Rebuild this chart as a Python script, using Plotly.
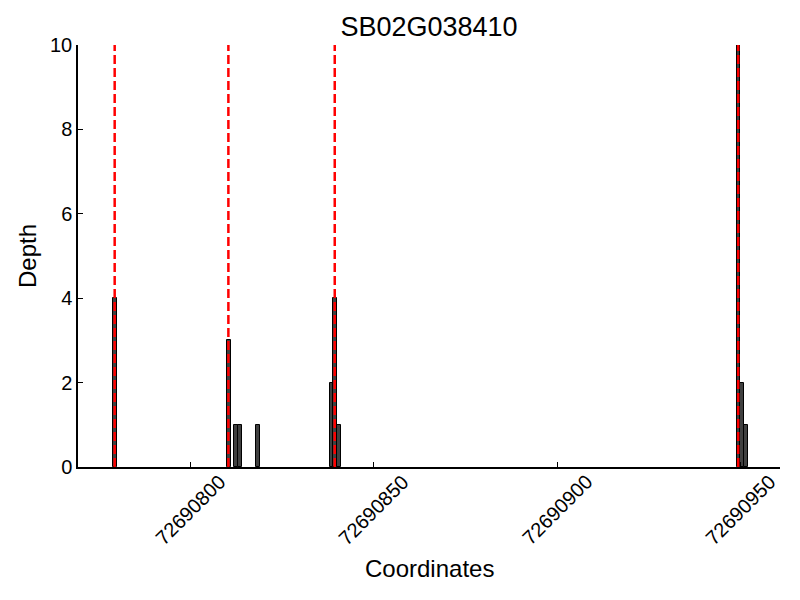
import plotly.graph_objects as go

# Data
positions = [72690779, 72690810, 72690812, 72690813, 72690818,
             72690838, 72690839, 72690840, 72690949, 72690950, 72690951]
depths = [4, 3, 1, 1, 1, 2, 4, 1, 10, 2, 1]
marker_lines = [72690779.4, 72690810.4, 72690839.4, 72690949.4]
x_ticks = [72690800, 72690850, 72690900, 72690950]
x_tick_labels = ["72690800", "72690850", "72690900", "72690950"]
y_ticks = [0, 2, 4, 6, 8, 10]
title_text = "SB02G038410"

FONT = "Liberation Sans, Arial, Helvetica, sans-serif"

fig = go.Figure()
fig.add_trace(go.Bar(
    x=positions, y=depths, width=1, offset=0,
    marker=dict(color="#404040", line=dict(color="black", width=1)),
    showlegend=False,
))

for xv in marker_lines:
    fig.add_shape(type="line", xref="x", yref="y", x0=xv, x1=xv, y0=0, y1=10,
                  line=dict(color="red", width=2.5, dash="9px,4px"), layer="above")

annotations = []
for tv, tl in zip(x_ticks, x_tick_labels):
    annotations.append(dict(x=tv, xref="x", y=0, yref="paper", yshift=-43,
                            text=tl, showarrow=False, textangle=-45,
                            xanchor="center", yanchor="middle",
                            font=dict(family=FONT, size=20, color="black")))
annotations.append(dict(x=0.5, xref="paper", y=0, yref="paper", yshift=-101,
                        text="Coordinates", showarrow=False,
                        xanchor="center", yanchor="middle",
                        font=dict(family=FONT, size=24, color="black")))
annotations.append(dict(x=0, xref="paper", xshift=-51, y=0.5, yref="paper",
                        text="Depth", showarrow=False, textangle=-90,
                        xanchor="center", yanchor="middle",
                        font=dict(family=FONT, size=24, color="black")))

fig.update_layout(
    width=800, height=600,
    margin=dict(l=78, r=20, t=45, b=133, autoexpand=False),
    paper_bgcolor="white", plot_bgcolor="white",
    bargap=0,
    title=dict(text=title_text, x=0.5, xref="paper", y=1 - 27 / 600, yref="container",
               xanchor="center", yanchor="middle", automargin=False,
               font=dict(family=FONT, size=27, color="black")),
    annotations=annotations,
    xaxis=dict(range=[72690769.4, 72690960.8], tickvals=x_ticks, showticklabels=False,
               ticks="inside", ticklen=5, tickcolor="black", showline=True,
               linecolor="black", linewidth=1.5, showgrid=False, zeroline=False,
               automargin=False),
    yaxis=dict(range=[0, 10], tickvals=y_ticks, ticks="inside", ticklen=5,
               tickcolor="black", showline=True, linecolor="black", linewidth=1.5,
               showgrid=False, zeroline=False, automargin=False,
               tickfont=dict(family=FONT, size=20, color="black")),
)

fig.write_html("out.html",
               config={"displayModeBar": False},
               post_script="document.body.style.margin='0';document.body.style.overflow='hidden';")
